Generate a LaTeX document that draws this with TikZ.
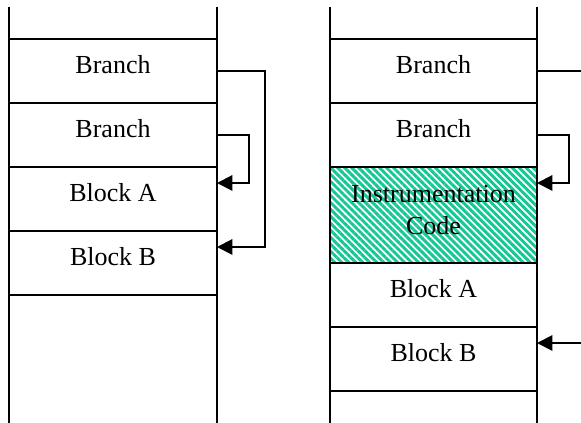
\documentclass[tikz,border=0pt]{standalone}
\usepackage{fontspec}
\setmainfont{Liberation Serif}
\usepackage{tikz}
\usetikzlibrary{
  calc,positioning,
  arrows.meta,patterns.meta
}
\definecolor{hatchgreen}{RGB}{20,200,150}
\newcommand\cellfont{\fontsize{19.5}{24}\selectfont}
\tikzset{
  cell/.style={draw,line width=1.5pt,minimum width=156pt,minimum height=48pt,
    inner sep=0pt,outer sep=0pt,font=\cellfont,text height=13pt,text depth=8.5pt},
  rcell/.style={cell,minimum width=155.25pt},
  instr/.style={rcell,minimum height=72pt,align=center,text height=29.5pt,text depth=0pt,
    pattern={Lines[angle=-45,distance=3.7pt,line width=2.2pt]},pattern color=hatchgreen},
  rail/.style={line width=1.5pt},
  jump/.style={line width=1.5pt,-{Triangle[length=11.5pt,width=11.5pt]}}
}

\begin{document}
\begin{tikzpicture}[x=0.75pt,y=-0.75pt]
\useasboundingbox (0,0) rectangle (581,423);

% left column
\node[cell] (lbr1) at (113,71) {Branch};
\node[cell,below=0pt of lbr1] (lbr2) {Branch};
\node[cell,below=0pt of lbr2] (lblkA) {Block A};
\node[cell,below=0pt of lblkA] (lblkB) {Block B};
\draw[rail] (9,7) -- (9,423);
\draw[rail] (217,7) -- (217,423);

\draw[jump] (lbr1.east) -- ++(48,0) |- ($(lblkB.north east)+(0,16)$);
\draw[jump] (lbr2.east) -- ++(32,0) |- ($(lblkA.north east)+(0,16)$);

% right column
\node[rcell] (rbr1) at (433.5,71) {Branch};
\node[rcell,below=0pt of rbr1] (rbr2) {Branch};
\node[instr,below=0pt of rbr2] (rinstr) {Instrumentation\\Code};
\node[rcell,below=0pt of rinstr] (rblkA) {Block A};
\node[rcell,below=0pt of rblkA] (rblkB) {Block B};
\draw[rail] (330,7) -- (330,423);
\draw[rail] (537,7) -- (537,423);

\coordinate (rout) at (581,71);
\coordinate (rin) at (581,343);
\draw[rail] (rbr1.east) -- (rout);
\draw[jump] (rbr2.east) -- ++(32,0) |- ($(rinstr.north east)+(0,16)$);
\draw[jump] (rin) -- ($(rblkB.north east)+(0,16)$);
\end{tikzpicture}
\end{document}
